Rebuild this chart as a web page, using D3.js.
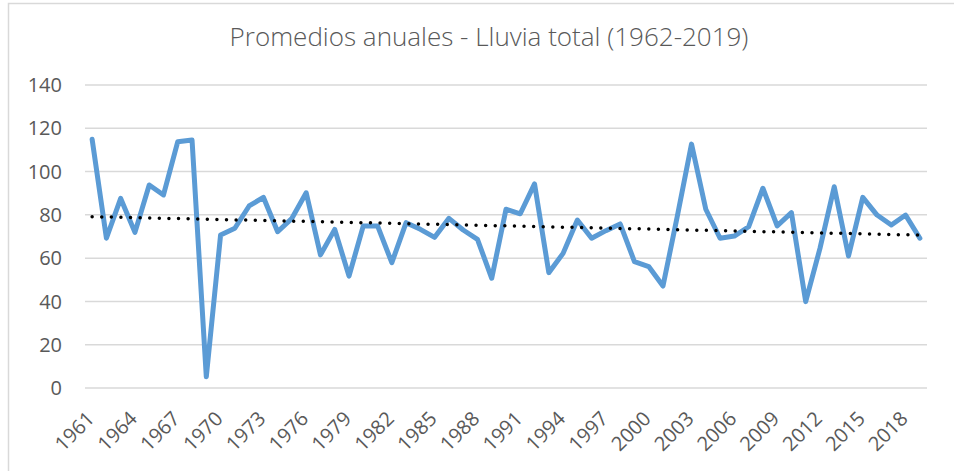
<!DOCTYPE html>
<html>
<head>
<meta charset="utf-8">
<script src="https://cdn.jsdelivr.net/npm/d3@7"></script>
<style>
  body { margin: 0; background: #fff; }
  text { font-family: "Open Sans", sans-serif; fill: #595959; }
</style>
</head>
<body>
<script>
// datos
const years = d3.range(1961, 2020)
const lluvia = [
    114.9, 69.2, 87.6, 71.9, 93.8, 89.2, 113.8, 114.6, 5.2, 70.7,
    73.8, 84.1, 88.1, 72.2, 78.4, 90.2, 61.5, 73.3, 51.7, 74.9,
    74.9, 57.9, 76.4, 73.3, 69.6, 78.4, 73.0, 68.7, 50.7, 82.6,
    80.5, 94.3, 53.3, 62.2, 77.6, 69.2, 72.7, 75.8, 58.4, 56.1,
    47.1, 79.2, 112.7, 82.6, 69.2, 70.2, 74.5, 92.3, 74.9, 81.0,
    39.9, 64.5, 93.0, 61.0, 88.1, 79.9, 75.3, 79.9, 69.2
]
const yTicks = [0, 20, 40, 60, 80, 100, 120, 140]
const xLabels = years.filter((d, i) => i % 3 == 0)

var width = 954,
    height = 471;

var svg = d3.select("body")
    .append("svg")
    .attr("width", width)
    .attr("height", height);

// borde del grafico (cortado a la derecha y abajo)
svg.append("rect")
    .attr("x", 8.5)
    .attr("y", 3.5)
    .attr("width", 1000)
    .attr("height", 500)
    .attr("fill", "none")
    .attr("stroke", "#d9d9d9")
    .attr("stroke-width", 1.5);

var x = d3.scaleBand().domain(years).range([85, 927]);
var y = d3.scaleLinear().domain([0, 140]).range([388, 85]);
var cx = d => x(d) + x.bandwidth() / 2;

// lineas de la grilla
svg.append("g")
    .selectAll("line")
    .data(yTicks)
    .join("line")
    .attr("x1", 85)
    .attr("x2", 927)
    .attr("y1", d => y(d))
    .attr("y2", d => y(d))
    .attr("stroke", "#d9d9d9")
    .attr("stroke-width", 1.5);

svg.append("g")
    .selectAll("text")
    .data(yTicks)
    .join("text")
    .attr("x", 62)
    .attr("y", d => y(d))
    .attr("dy", "0.36em")
    .attr("text-anchor", "end")
    .style("font-size", "20px")
    .text(d => d);

svg.append("g")
    .selectAll("text")
    .data(xLabels)
    .join("text")
    .attr("transform", d => `translate(${cx(d) - 1.5},${415}) rotate(-45)`)
    .attr("text-anchor", "end")
    .attr("dy", "0.35em")
    .style("font-size", "20px")
    .text(d => d);

// titulo
svg.append("text")
    .attr("x", 489)
    .attr("y", 46)
    .attr("text-anchor", "middle")
    .style("font-size", "26px")
    .style("font-weight", 300)
    .text("Promedios anuales - Lluvia total (1962-2019)");

// serie
var line = d3.line()
    .x((d, i) => cx(years[i]))
    .y(d => y(d));

svg.append("path")
    .datum(lluvia)
    .attr("d", line)
    .attr("fill", "none")
    .attr("stroke", "#5b9bd5")
    .attr("stroke-width", 5)
    .attr("stroke-linejoin", "round")
    .attr("stroke-linecap", "round");

// tendencia lineal (minimos cuadrados)
var mx = d3.mean(years), my = d3.mean(lluvia);
var slope = d3.sum(years, (d, i) => (d - mx) * (lluvia[i] - my)) /
    d3.sum(years, d => (d - mx) * (d - mx));
var trend = [years[0], years[years.length - 1]].map(d => [d, my + slope * (d - mx)]);

svg.append("path")
    .datum(trend)
    .attr("d", d3.line().x(d => cx(d[0])).y(d => y(d[1])))
    .attr("fill", "none")
    .attr("stroke", "#000")
    .attr("stroke-width", 3.5)
    .attr("stroke-linecap", "round")
    .attr("stroke-dasharray", "0 9.6");
</script>
</body>
</html>
